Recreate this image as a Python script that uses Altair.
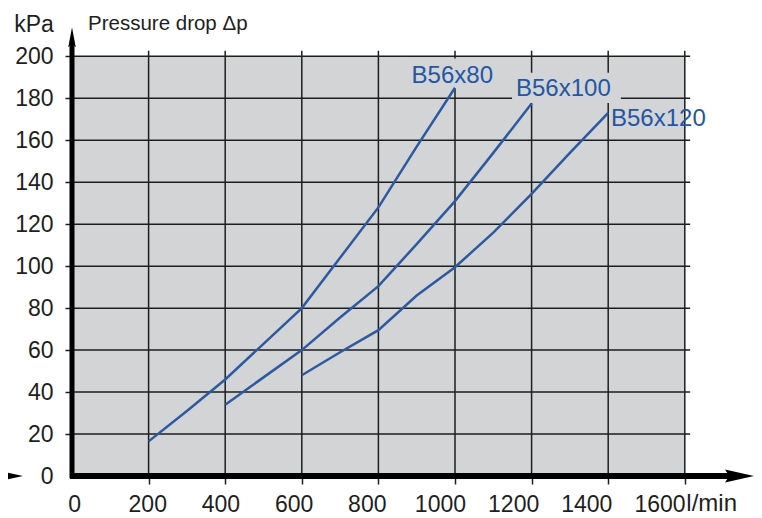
import altair as alt
import pandas as pd

# ---------------- data ----------------
flow_b80 = [200, 300, 400, 500, 600, 700, 800, 900, 1000]
dp_b80 = [16.5, 31, 46, 63, 80, 104, 128, 157, 185]
flow_b100 = [400, 500, 600, 700, 800, 900, 1000, 1100, 1200]
dp_b100 = [34, 47, 60, 75.5, 90.5, 110.5, 131, 154, 177.5]
flow_b120 = [600, 700, 800, 900, 1000, 1100, 1200, 1300, 1400]
dp_b120 = [48, 59, 69.5, 86, 99.5, 116, 134.5, 154, 173]
series_names = ["B56x80", "B56x100", "B56x120"]

x_ticks = [0, 200, 400, 600, 800, 1000, 1200, 1400, 1600]
y_ticks = [0, 20, 40, 60, 80, 100, 120, 140, 160, 180, 200]
x_unit = "l/min"
y_unit = "kPa"
title_text = "Pressure drop \u0394p"

# ---------------- layout / style ----------------
FONT = "Liberation Sans"
gray = "#d3d4d6"
ink = "#1e1e1e"
blue_line = "#2b5aa5"
blue_text = "#2256a6"

W, H = 682, 448
XMAX, YMAX = 1780.7, 213.5
LX0, LX1 = -5.74, 1858.4  # scale used only to place the x tick labels

xs = alt.Scale(domain=[0, XMAX], nice=False, zero=False)
ys = alt.Scale(domain=[0, YMAX], nice=False, zero=False)
xl = alt.Scale(domain=[LX0, LX1], nice=False, zero=False)


def hide0(c):
    return {"condition": {"test": "datum.value === 0", "value": "transparent"}, "value": c}


x_axis = alt.Axis(values=x_ticks, orient="bottom", labels=False, ticks=True, tickSize=8,
                  tickWidth=1.5, tickColor=hide0(ink), domain=False, grid=False, title=None)
y_axis = alt.Axis(values=y_ticks, orient="left", format="d", labelFont=FONT, labelFontSize=23,
                  labelColor=ink, labelPadding=12, labelFlush=False, labelOverlap=False,
                  ticks=True, tickSize=7, tickWidth=1.5, tickColor=hide0(ink),
                  domain=False, grid=False, title=None)
xl_axis = alt.Axis(values=x_ticks, orient="bottom", format="d", labelFont=FONT, labelFontSize=23,
                   labelColor=ink, labelPadding=9, labelFlush=False, labelOverlap=False,
                   ticks=True, tickSize=8, tickColor="transparent",
                   domain=False, grid=False, title=None)


def X(f):
    return alt.X(f, type="quantitative", scale=xs, axis=x_axis)


def Y(f):
    return alt.Y(f, type="quantitative", scale=ys, axis=y_axis)


# plot background
bg = alt.Chart(pd.DataFrame({"x": [0], "x2": [x_ticks[-1]], "y": [0], "y2": [y_ticks[-1]]})).mark_rect(
    color=gray).encode(x=X("x"), x2="x2", y=Y("y"), y2="y2")

# grid lines
vgrid = alt.Chart(pd.DataFrame({"x": x_ticks[1:], "y0": 0, "y1": 202.7})).mark_rule(
    color=ink, strokeWidth=1.5).encode(x=X("x"), y=Y("y0"), y2="y1")
hgrid = alt.Chart(pd.DataFrame({"y": y_ticks[1:], "x0": 0, "x1": 1614})).mark_rule(
    color=ink, strokeWidth=1.5).encode(y=Y("y"), x=X("x0"), x2="x1")

# background patches behind two of the curve labels
lab_bg = alt.Chart(pd.DataFrame({"x0": [877, 1149], "x1": [1110, 1433],
                                 "y0": [184.6, 177.8], "y1": [199, 192.2]})).mark_rect(
    color=gray).encode(x=X("x0"), x2="x1", y=Y("y0"), y2="y1")

# curves
rows = []
for name, fl, dp in zip(series_names, [flow_b80, flow_b100, flow_b120], [dp_b80, dp_b100, dp_b120]):
    for f, d in zip(fl, dp):
        rows.append({"series": name, "flow": f, "dp": d})
curves = alt.Chart(pd.DataFrame(rows)).mark_line(color=blue_line, strokeWidth=2.5).encode(
    x=X("flow"), y=Y("dp"), detail="series:N")

labels = alt.Chart(pd.DataFrame({"name": series_names, "lx": [993, 1283, 1531],
                                 "ly": [190.8, 184.5, 169.9]})).mark_text(
    font=FONT, fontSize=24, color=blue_text, align="center", baseline="middle").encode(
    x=X("lx"), y=Y("ly"), text="name:N")

# thick axes with arrows
xline = alt.Chart(pd.DataFrame({"x0": [-5.2], "x1": [1723], "y": [0]})).mark_rule(
    color="black", strokeWidth=6).encode(x=X("x0"), x2="x1", y=Y("y"))
yline = alt.Chart(pd.DataFrame({"x": [0], "y0": [-1.1], "y1": [206]})).mark_rule(
    color="black", strokeWidth=5).encode(x=X("x"), y=Y("y0"), y2="y1")

ARROW_RIGHT = "M1,0L-1,-0.45L-0.7,0L-1,0.45Z"
ARROW_UP = "M0,-1L0.375,1L0,0.7L-0.375,1Z"
xarrow = alt.Chart(pd.DataFrame({"x": [1742.8, -165.8], "y": [0, 0]})).mark_point(
    shape=ARROW_RIGHT, size=841, filled=True, color="black", opacity=1, strokeWidth=0).encode(
    x=X("x"), y=Y("y"))
yarrow = alt.Chart(pd.DataFrame({"x": [0], "y": [209.1]})).mark_point(
    shape=ARROW_UP, size=400, filled=True, color="black", opacity=1, strokeWidth=0).encode(
    x=X("x"), y=Y("y"))

# axis captions
cap_kpa = alt.Chart(pd.DataFrame({"x": [-99], "y": [211.6], "t": [y_unit]})).mark_text(
    font=FONT, fontSize=23, color=ink, align="center", baseline="alphabetic").encode(
    x=X("x"), y=Y("y"), text="t:N")
cap_title = alt.Chart(pd.DataFrame({"x": [41.8], "y": [212.4], "t": [title_text]})).mark_text(
    font=FONT, fontSize=20.5, color=ink, align="left", baseline="alphabetic").encode(
    x=X("x"), y=Y("y"), text="t:N")
cap_unit = alt.Chart(pd.DataFrame({"x": [1604], "y": [-16.7], "t": [x_unit]})).mark_text(
    font=FONT, fontSize=24, color=ink, align="left", baseline="alphabetic").encode(
    x=X("x"), y=Y("y"), text="t:N")

inner = alt.layer(bg, vgrid, hgrid, lab_bg, curves, labels, xline, yline, xarrow, yarrow,
                  cap_kpa, cap_title, cap_unit)

tick_labels = alt.Chart(pd.DataFrame({"v": x_ticks})).mark_point(opacity=0).encode(
    x=alt.X("v:Q", scale=xl, axis=xl_axis))

chart = alt.layer(inner, tick_labels).resolve_scale(x="independent").properties(
    width=W, height=H,
    padding={"left": 64, "top": 20, "right": 0, "bottom": 42},
    autosize=alt.AutoSizeParams(type="none"),
).configure(font=FONT).configure_view(stroke=None, strokeWidth=0)

chart.save("out.html", embed_options={"renderer": "svg", "actions": False})
